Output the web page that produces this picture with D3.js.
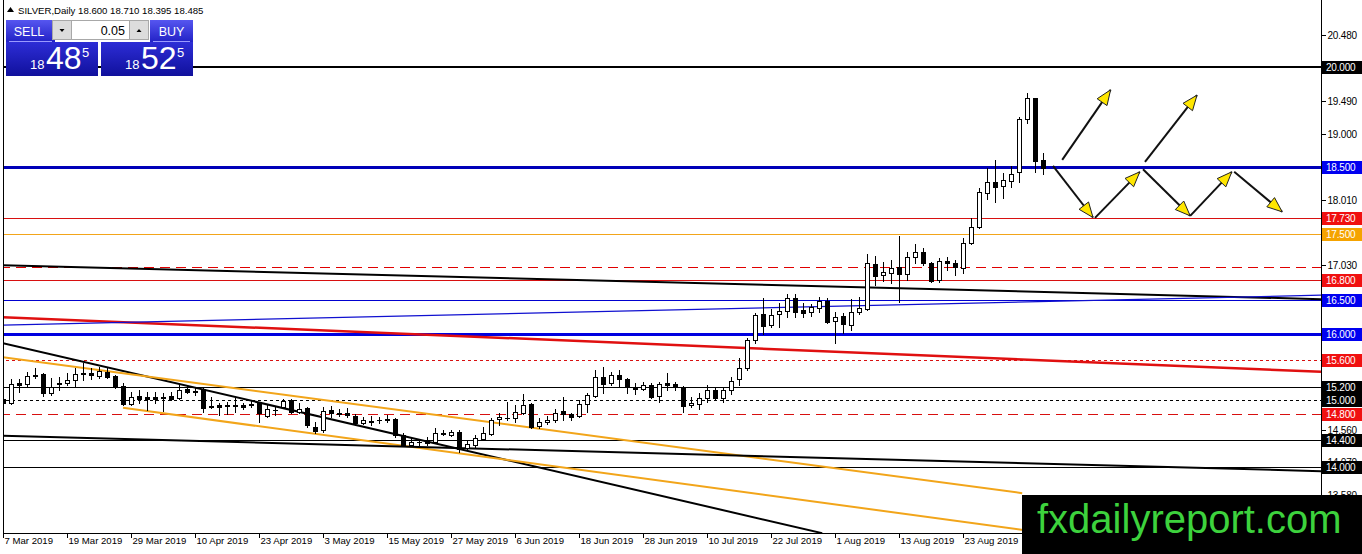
<!DOCTYPE html>
<html><head><meta charset="utf-8">
<script src="https://cdn.jsdelivr.net/npm/d3@7/dist/d3.min.js"></script>
<style>
html,body{margin:0;padding:0;background:#fff;overflow:hidden}
svg{display:block}
text{font-family:"Liberation Sans",Arial,sans-serif}
</style></head><body>
<svg id="chart" width="1362" height="554"></svg>
<script>
// ---------------- DATA ----------------
const symbol = "SILVER,Daily";
const lastQuote = ["18.600", "18.710", "18.395", "18.485"];
const open = [
15.02,14.96,15.26,15.24,15.38,15.39,15.11,15.24,15.26,15.30,
15.41,15.41,15.36,15.42,15.36,15.21,14.94,15.06,15.05,15.05,
15.05,15.06,15.03,15.17,15.14,15.17,14.91,14.93,14.93,14.92,
14.93,14.94,14.96,14.76,14.85,14.90,15.00,14.82,14.88,14.60,
14.55,14.85,14.81,14.81,14.76,14.66,14.69,14.70,14.71,14.72,
14.48,14.33,14.37,14.40,14.37,14.50,14.48,14.52,14.28,14.33,
14.42,14.49,14.72,14.73,14.73,14.81,14.94,14.61,14.67,14.70,
14.84,14.79,14.76,14.94,15.06,15.35,15.26,15.38,15.32,15.20,
15.17,15.23,15.06,15.26,15.24,15.20,14.93,14.94,15.03,15.15,
15.03,15.15,15.32,15.48,15.90,16.29,16.13,16.29,16.34,16.53,
16.35,16.32,16.38,16.49,16.19,16.26,16.13,16.32,16.37,17.04,
16.88,16.91,17.00,16.89,17.15,17.22,17.06,16.80,17.09,17.06,
16.98,17.36,17.60,18.11,18.27,18.21,18.29,18.42,19.22,19.53,
18.600];
const high = [
15.05,15.32,15.32,15.42,15.48,15.41,15.33,15.35,15.41,15.48,
15.56,15.48,15.50,15.48,15.38,15.26,15.12,15.15,15.12,15.12,
15.11,15.12,15.23,15.23,15.20,15.18,15.05,14.96,14.97,15.03,
14.96,14.99,14.97,14.94,14.90,15.02,15.02,14.96,14.90,14.67,
14.90,14.91,14.87,14.88,14.79,14.75,14.76,14.75,14.78,14.73,
14.51,14.43,14.42,14.45,14.58,14.55,14.55,14.55,14.40,14.48,
14.60,14.73,14.81,14.97,14.93,15.09,14.96,14.73,14.76,14.87,
15.05,14.81,15.00,15.11,15.45,15.50,15.42,15.45,15.33,15.26,
15.27,15.26,15.27,15.41,15.27,15.21,15.05,15.11,15.23,15.18,
15.20,15.35,15.63,15.93,16.31,16.53,16.37,16.46,16.59,16.59,
16.46,16.44,16.55,16.53,16.32,16.31,16.52,16.55,17.19,17.16,
17.07,17.10,17.46,17.22,17.34,17.28,17.07,17.13,17.15,17.10,
17.43,17.73,18.18,18.48,18.60,18.41,18.51,19.25,19.61,19.54,
18.710];
const low = [
14.93,14.94,15.12,15.20,15.33,15.06,15.08,15.15,15.23,15.20,
15.30,15.32,15.33,15.33,15.19,14.93,14.93,14.96,14.85,14.96,
14.84,15.00,15.02,15.11,15.08,14.82,14.88,14.78,14.79,14.82,
14.87,14.90,14.67,14.75,14.78,14.88,14.81,14.81,14.60,14.51,
14.52,14.75,14.76,14.75,14.63,14.65,14.63,14.66,14.67,14.45,
14.31,14.31,14.33,14.33,14.36,14.48,14.46,14.22,14.27,14.30,
14.40,14.48,14.63,14.70,14.68,14.80,14.58,14.58,14.65,14.68,
14.70,14.70,14.75,14.82,15.05,15.11,15.23,15.20,15.11,15.09,
15.15,15.03,14.97,15.15,15.15,14.82,14.90,14.87,14.97,15.02,
14.97,15.09,15.23,15.45,15.86,15.99,16.10,16.10,16.25,16.25,
16.25,16.26,16.32,16.16,15.86,16.01,16.05,16.30,16.35,16.73,
16.79,16.76,16.47,16.80,17.06,17.03,16.78,16.78,16.95,16.88,
16.91,17.34,17.58,18.02,17.97,18.03,18.20,18.27,19.16,18.42,
18.395];
const close = [
14.96,15.24,15.23,15.36,15.36,15.11,15.20,15.26,15.30,15.39,
15.40,15.38,15.44,15.35,15.20,14.94,15.05,15.02,15.02,15.02,
15.04,15.02,15.15,15.12,15.13,14.88,14.90,14.90,14.92,14.93,
14.90,14.93,14.81,14.87,14.86,14.99,14.82,14.87,14.63,14.54,
14.84,14.81,14.80,14.78,14.66,14.70,14.68,14.71,14.72,14.48,
14.33,14.37,14.38,14.36,14.51,14.51,14.52,14.27,14.34,14.43,
14.51,14.70,14.75,14.74,14.82,14.93,14.60,14.67,14.70,14.81,
14.79,14.75,14.94,15.08,15.35,15.24,15.38,15.32,15.20,15.17,
15.23,15.05,15.24,15.23,15.21,14.91,14.96,15.03,15.15,15.03,
15.15,15.29,15.48,15.90,16.28,16.11,16.28,16.34,16.53,16.32,
16.31,16.40,16.49,16.17,16.25,16.14,16.32,16.38,17.06,16.86,
16.92,16.99,16.89,17.15,17.22,17.06,16.79,17.09,17.06,17.00,
17.36,17.60,18.12,18.27,18.20,18.30,18.39,19.22,19.53,18.59,
18.485];
const tickLabels = ["7 Mar 2019","19 Mar 2019","29 Mar 2019","10 Apr 2019","23 Apr 2019","3 May 2019",
  "15 May 2019","27 May 2019","6 Jun 2019","18 Jun 2019","28 Jun 2019","10 Jul 2019","22 Jul 2019",
  "1 Aug 2019","13 Aug 2019","23 Aug 2019"];
const tickBars = [0,8,16,24,32,40,48,56,64,72,80,88,96,104,112,120];
const priceTicks = [20.48,19.99,19.49,19.00,18.50,18.01,17.52,17.03,16.54,16.05,15.56,15.07,14.56,14.07,13.58];
// price tick labels that sit fully behind a level tag in the chart
const coveredTicks = [19.99,18.50,17.52,16.54,16.05,15.56,15.07];
const levels = [20.0,18.5,17.73,17.5,17.0,16.8,16.5,16.0,15.6,15.2,15.0,14.8,14.4,14.0];
// trend lines: [bar1, price1, bar2, price2]
const trendLines = [
  [0,17.03,164.75,16.52],
  [0,16.25,164.75,15.43],
  [0,16.13,164.75,16.58],
  [0,15.86,102.4,13.01],
  [0,15.65,127.4,13.61],
  [15,14.89,130.5,13.01],
  [0,14.47,164.75,13.94]
];
// arrows: [bar1, price1, bar2, price2]
const arrows = [
  [132.4,18.61,138.45,19.66],
  [131.25,18.52,136.25,17.745],
  [136.5,17.74,142.1,18.43],
  [142.75,18.58,149.25,19.58],
  [142.5,18.47,148.4,17.77],
  [148.4,17.77,153.6,18.43],
  [153.9,18.43,159.9,17.83]
];
const sellPrice = ["18","48","5"];
const buyPrice = ["18","52","5"];
const lotSize = "0.05";

// ---------------- STYLES ----------------
const RED = "#d81010", BLUE = "#0000d0", BLACK = "#000", ORANGE = "#f2a51a";
const levelStyle = [
  {c:BLACK,w:2,tag:"#000"},
  {c:"#0000b8",w:2.5,tag:"#0000f0"},
  {c:RED,w:1,tag:"#f01010"},
  {c:ORANGE,w:1,tag:"#f5a300"},
  {c:"#e00000",w:1,dash:"10,6",tag:null},
  {c:RED,w:1,tag:"#f01010"},
  {c:BLUE,w:1,tag:"#0000f0"},
  {c:"#0000e0",w:2.5,tag:"#0000f0"},
  {c:RED,w:1,dash:"3,3",tag:"#f01010"},
  {c:BLACK,w:1,tag:"#000"},
  {c:BLACK,w:1,dash:"3,3",tag:"#000"},
  {c:RED,w:1,dash:"10,6",tag:"#f01010"},
  {c:BLACK,w:1,tag:"#000"},
  {c:BLACK,w:1,tag:"#000"}
];
const trendStyle = [
  {c:"#000",w:2},{c:"#e01010",w:2.5},{c:"#1010d0",w:1.2},{c:"#000",w:2},
  {c:"#f2a51a",w:2},{c:"#f2a51a",w:2},{c:"#000",w:2}
];

// ---------------- SCALES ----------------
const svg = d3.select("#chart");
const x = d3.scaleLinear().domain([0,164.75]).range([3,1321]);
const y = d3.scaleLinear().domain([21,13]).range([0.5,533.83]);
const fmt = d3.format(".3f");

svg.append("rect").attr("width",1362).attr("height",554).attr("fill","#fff");

const defs = svg.append("defs");
defs.append("clipPath").attr("id","plot").append("rect")
  .attr("x",3).attr("y",0).attr("width",1318).attr("height",533);
const g1 = defs.append("linearGradient").attr("id","btn").attr("x1",0).attr("y1",0).attr("x2",0).attr("y2",1);
g1.append("stop").attr("offset","0%").attr("stop-color","#5656f0");
g1.append("stop").attr("offset","100%").attr("stop-color","#2222c6");
const g2 = defs.append("linearGradient").attr("id","box").attr("x1",0).attr("y1",0).attr("x2",0).attr("y2",1);
g2.append("stop").attr("offset","0%").attr("stop-color","#2d2dd6");
g2.append("stop").attr("offset","100%").attr("stop-color","#10109c");

const plot = svg.append("g").attr("clip-path","url(#plot)");

// horizontal levels
plot.selectAll("line.level").data(levels).join("line")
  .attr("class","level")
  .attr("x1",0).attr("x2",1321)
  .attr("y1",(d,i)=>Math.round(y(d))+(levelStyle[i].w%2?0.5:0))
  .attr("y2",(d,i)=>Math.round(y(d))+(levelStyle[i].w%2?0.5:0))
  .attr("stroke",(d,i)=>levelStyle[i].c)
  .attr("stroke-width",(d,i)=>levelStyle[i].w)
  .attr("stroke-dasharray",(d,i)=>levelStyle[i].dash||null)
  .attr("shape-rendering","crispEdges");

// trend lines
plot.selectAll("line.trend").data(trendLines).join("line")
  .attr("class","trend")
  .attr("x1",d=>x(d[0])).attr("y1",d=>y(d[1]))
  .attr("x2",d=>x(d[2])).attr("y2",d=>y(d[3]))
  .attr("stroke",(d,i)=>trendStyle[i].c)
  .attr("stroke-width",(d,i)=>trendStyle[i].w);

// candles
const bars = d3.range(open.length).map(i=>({i,o:open[i],h:high[i],l:low[i],c:close[i]}));
const cg = plot.append("g").attr("shape-rendering","crispEdges");
bars.forEach(b=>{
  const cx = Math.round(x(b.i));
  cg.append("line").attr("x1",cx+0.5).attr("x2",cx+0.5)
    .attr("y1",Math.round(y(b.h))).attr("y2",Math.round(y(b.l))+1)
    .attr("stroke","#000").attr("stroke-width",1);
  const top = Math.round(y(Math.max(b.o,b.c)));
  const bot = Math.round(y(Math.min(b.o,b.c)));
  const bull = b.c >= b.o;
  if (bot - top < 1) {
    cg.append("line").attr("x1",cx-2).attr("x2",cx+3)
      .attr("y1",top+0.5).attr("y2",top+0.5).attr("stroke","#000");
  } else {
    cg.append("rect").attr("x",cx-1.5).attr("y",top+0.5)
      .attr("width",4).attr("height",bot-top)
      .attr("fill",bull?"#fff":"#000").attr("stroke","#000").attr("stroke-width",1);
  }
});

// arrows
const ag = svg.append("g");
arrows.forEach(a=>{
  const x1=x(a[0]),y1=y(a[1]),x2=x(a[2]),y2=y(a[3]);
  ag.append("line").attr("x1",x1).attr("y1",y1).attr("x2",x2).attr("y2",y2)
    .attr("stroke","#111").attr("stroke-width",2);
  const ang = Math.atan2(y2-y1,x2-x1), L=15, Wd=6;
  const bx = x2 - L*Math.cos(ang), by = y2 - L*Math.sin(ang);
  const px = -Math.sin(ang)*Wd, py = Math.cos(ang)*Wd;
  ag.append("path")
    .attr("d",`M${x2},${y2}L${bx+px},${by+py}L${bx-px},${by-py}Z`)
    .attr("fill","#ffe600").attr("stroke","#222").attr("stroke-width",1);
});

// frame / axes
svg.append("line").attr("x1",3.5).attr("x2",3.5).attr("y1",0).attr("y2",533)
  .attr("stroke","#000").attr("shape-rendering","crispEdges");

const yAxis = svg.append("g").attr("transform","translate(1321.5,0)")
  .call(d3.axisRight(y).tickValues(priceTicks).tickSize(4).tickSizeOuter(0).tickPadding(2)
    .tickFormat(v => coveredTicks.includes(v) ? "" : fmt(v)));
yAxis.select(".domain").attr("d","M0,0V554").attr("stroke","#000").attr("shape-rendering","crispEdges");
yAxis.selectAll(".tick line").attr("stroke","#000").attr("shape-rendering","crispEdges");
yAxis.selectAll(".tick text").attr("font-size","10px").attr("fill","#000")
  .attr("font-family","'Liberation Sans',Arial,sans-serif").attr("letter-spacing","-0.2px");

const xAxis = svg.append("g").attr("transform","translate(0,533.5)")
  .call(d3.axisBottom(x).tickValues(tickBars).tickSize(4).tickSizeOuter(0)
    .tickFormat((d,i)=>tickLabels[i]));
xAxis.select(".domain").attr("d","M3,0H1321").attr("stroke","#000").attr("shape-rendering","crispEdges");
xAxis.selectAll(".tick line").attr("stroke","#000").attr("shape-rendering","crispEdges");
xAxis.selectAll(".tick text").attr("font-size","9.6px").attr("fill","#000")
  .attr("text-anchor","start").attr("x",1).attr("y",4).attr("dy","0.71em")
  .attr("font-family","'Liberation Sans',Arial,sans-serif");

// level tags
const tg = svg.append("g");
levels.forEach((v,i)=>{
  const s = levelStyle[i];
  if(!s.tag) return;
  const cy = Math.round(y(v));
  tg.append("rect").attr("x",1322).attr("y",cy-6).attr("width",40).attr("height",13)
    .attr("fill",s.tag);
  tg.append("text").attr("x",1326).attr("y",cy+4).attr("font-size","10px")
    .attr("letter-spacing","-0.2px").attr("fill","#fff").text(fmt(v));
});

// header + trade panel
const hp = svg.append("g");
hp.append("path").attr("d","M7,12L10.5,7L14,12Z").attr("fill","#000");
hp.append("text").attr("x",18).attr("y",13.5).attr("font-size","9.6px").attr("fill","#000")
  .text(symbol + "  " + lastQuote.join(" "));
// buttons
hp.append("rect").attr("x",6).attr("y",20).attr("width",49).attr("height",22).attr("fill","url(#btn)");
hp.append("rect").attr("x",150).attr("y",20).attr("width",43).attr("height",22).attr("fill","url(#btn)");
hp.append("line").attr("x1",9).attr("x2",52).attr("y1",41.5).attr("y2",41.5).attr("stroke","#9a9aff");
hp.append("line").attr("x1",153).attr("x2",190).attr("y1",41.5).attr("y2",41.5).attr("stroke","#9a9aff");
hp.append("text").attr("x",29).attr("y",35.5).attr("text-anchor","middle").attr("font-size","12.5px")
  .attr("fill","#fff").text("SELL");
hp.append("text").attr("x",171.5).attr("y",35.5).attr("text-anchor","middle").attr("font-size","12.5px")
  .attr("fill","#fff").text("BUY");
// spinner
hp.append("rect").attr("x",52.5).attr("y",20.5).attr("width",19).attr("height",19)
  .attr("fill","#dcdcdc").attr("stroke","#a8a8a8");
hp.append("rect").attr("x",71.5).attr("y",20.5).attr("width",58).attr("height",19)
  .attr("fill","#fff").attr("stroke","#a8a8a8");
hp.append("rect").attr("x",129.5).attr("y",20.5).attr("width",19).attr("height",19)
  .attr("fill","#dcdcdc").attr("stroke","#a8a8a8");
hp.append("path").attr("d","M59.5,29L64.5,29L62,32Z").attr("fill","#000");
hp.append("path").attr("d","M136.5,32L141.5,32L139,29Z").attr("fill","#000");
hp.append("text").attr("x",125).attr("y",35).attr("text-anchor","end").attr("font-size","12.5px")
  .attr("fill","#000").text(lotSize);
// price boxes
function priceBox(x0, parts){
  hp.append("rect").attr("x",x0).attr("y",42).attr("width",92).attr("height",34).attr("fill","url(#box)");
  hp.append("text").attr("x",x0+24).attr("y",69).attr("font-size","13px").attr("fill","#fff").text(parts[0]);
  hp.append("text").attr("x",x0+40).attr("y",69).attr("font-size","32px").attr("fill","#fff").text(parts[1]);
  hp.append("text").attr("x",x0+76).attr("y",57).attr("font-size","13px").attr("fill","#fff").text(parts[2]);
}
priceBox(6, sellPrice);
priceBox(101, buyPrice);

// logo
svg.append("rect").attr("x",1022).attr("y",495).attr("width",340).attr("height",59).attr("fill","#000");
svg.append("text").attr("x",1037).attr("y",533).attr("font-size","40px").attr("fill","#3dd23d")
  .text("fxdailyreport.com");
</script>
</body></html>
